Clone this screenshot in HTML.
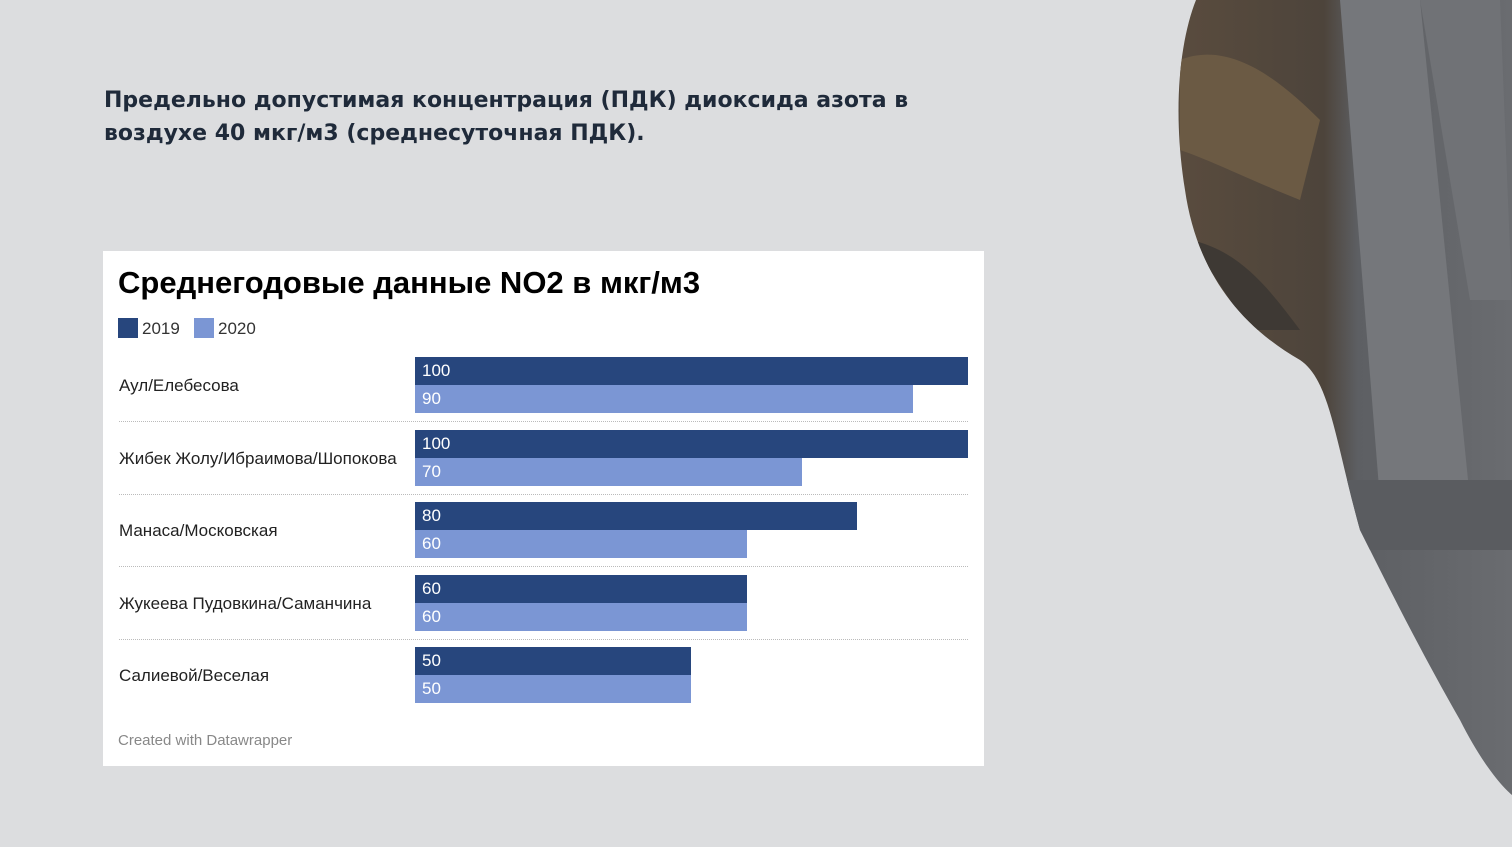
<!DOCTYPE html>
<html><head><meta charset="utf-8"><style>
body{margin:0;width:1512px;height:847px;background:#dcdddf;position:relative;overflow:hidden;font-family:"Liberation Sans",sans-serif}
.hd{position:absolute;left:104px;top:84px;line-height:33px;color:#1f2a3a;font-family:"DejaVu Sans","Liberation Sans",sans-serif;font-size:22px;font-weight:bold}
.card{position:absolute;left:103px;top:251px;width:881px;height:515px;background:#fff}
.t{position:absolute;left:15px;top:14px;font-size:31px;font-weight:bold;color:#000}
.lg{position:absolute;top:67px;font-size:17px;color:#333}
.sw{display:inline-block;width:20px;height:20px;vertical-align:-4px;margin-right:4px}
.lab{position:absolute;left:16px;font-size:17px;color:#222}
.bar{position:absolute;left:312px;height:28px;color:#fff;font-size:17px;line-height:28px;padding-left:7px;box-sizing:border-box}
.d{background:#27467d}.l{background:#7b96d4}
.sep{position:absolute;left:16px;width:849px;border-top:1px dotted #bbb}
.ft{position:absolute;left:15px;top:481px;font-size:15px;color:#888}
</style></head><body>
<div class="hd">Предельно допустимая концентрация (ПДК) диоксида азота в<br>воздухе 40 мкг/м3 (среднесуточная ПДК).</div>
<svg style="position:absolute;left:0;top:0" width="1512" height="847">
<defs><clipPath id="c"><path d="M1196,0 C1180,40 1172,110 1185,190 C1195,260 1230,320 1300,360 C1330,380 1335,440 1360,530 C1390,590 1420,650 1460,720 C1480,760 1500,785 1512,795 L1512,0 Z"/></clipPath>
<linearGradient id="g" x1="0" x2="1"><stop offset="0" stop-color="#5a4c3e"/><stop offset="0.45" stop-color="#4d443b"/><stop offset="0.55" stop-color="#5d5f63"/><stop offset="1" stop-color="#6a6c70"/></linearGradient></defs>
<g clip-path="url(#c)">
<rect x="1170" y="0" width="342" height="847" fill="url(#g)"/>
<path d="M1340,0 L1420,0 L1470,500 L1380,500 Z" fill="#75777b"/>
<path d="M1420,0 L1500,0 L1512,300 L1470,300 Z" fill="#707276"/>
<rect x="1330" y="480" width="182" height="70" fill="#5a5c60"/>
<path d="M1180,60 C1230,40 1280,80 1320,120 L1300,200 C1250,180 1210,160 1180,150 Z" fill="#6b5a44"/>
<path d="M1190,240 C1240,250 1270,290 1300,330 L1250,330 Z" fill="#3e3934"/>
</g>
</svg>
<div class="card">
<div class="t">Среднегодовые данные NO2 в мкг/м3</div>
<div class="lg" style="left:15px"><span class="sw d"></span>2019</div>
<div class="lg" style="left:91px"><span class="sw l"></span>2020</div>

<div class="lab" style="top:125px">Аул/Елебесова</div>
<div class="bar d" style="top:106px;width:553px">100</div>
<div class="bar l" style="top:134px;width:498px">90</div>
<div class="sep" style="top:170px"></div>

<div class="lab" style="top:198px">Жибек Жолу/Ибраимова/Шопокова</div>
<div class="bar d" style="top:179px;width:553px">100</div>
<div class="bar l" style="top:207px;width:387px">70</div>
<div class="sep" style="top:243px"></div>

<div class="lab" style="top:270px">Манаса/Московская</div>
<div class="bar d" style="top:251px;width:442px">80</div>
<div class="bar l" style="top:279px;width:332px">60</div>
<div class="sep" style="top:315px"></div>

<div class="lab" style="top:343px">Жукеева Пудовкина/Саманчина</div>
<div class="bar d" style="top:324px;width:332px">60</div>
<div class="bar l" style="top:352px;width:332px">60</div>
<div class="sep" style="top:388px"></div>

<div class="lab" style="top:415px">Салиевой/Веселая</div>
<div class="bar d" style="top:396px;width:276px">50</div>
<div class="bar l" style="top:424px;width:276px">50</div>

<div class="ft">Created with Datawrapper</div>
</div>
</body></html>
